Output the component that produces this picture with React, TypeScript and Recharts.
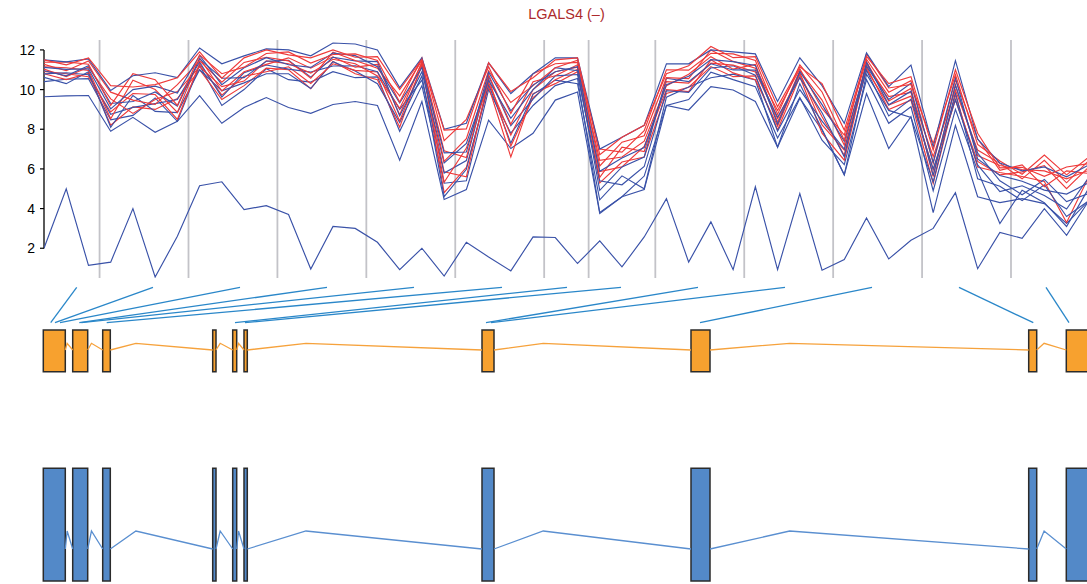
import React from 'react'
import {
  LineChart,
  Line,
  XAxis,
  YAxis,
  ReferenceLine,
  ReferenceArea,
  ComposedChart,
} from 'recharts'

// expression per bin (48 bins across the exons)
const red1 = [11.5, 11.25, 11.6, 10.2, 10.13, 10.25, 10.6, 11.9, 10.58, 11.6, 12.0, 11.75, 11.6, 12.0, 11.63, 11.66, 10.0, 11.53, 7.96, 8.02, 11.35, 9.9, 10.6, 11.5, 11.6, 6.72, 7.6, 8.2, 10.8, 11.2, 12.17, 11.61, 11.66, 9.14, 11.15, 10.3, 7.96, 11.67, 10.3, 10.65, 6.95, 11.0, 7.8, 6.05, 6.08, 5.63, 6.1, 6.27]
const red2 = [11.38, 11.4, 11.28, 9.2, 10.8, 10.5, 9.2, 11.75, 10.8, 11.13, 11.82, 11.9, 11.34, 11.77, 11.8, 11.47, 9.37, 11.6, 7.43, 8.5, 11.15, 8.8, 10.8, 11.3, 11.37, 7.0, 6.85, 7.93, 11.0, 10.98, 11.83, 11.8, 11.47, 8.75, 11.25, 9.88, 7.45, 11.8, 10.08, 10.26, 7.29, 10.75, 7.23, 6.4, 5.73, 6.7, 5.7, 6.6]
const red3 = [11.27, 10.95, 11.44, 9.87, 9.47, 9.25, 10.25, 11.45, 10.37, 11.37, 11.63, 11.45, 10.57, 11.88, 11.47, 11.08, 9.68, 11.47, 6.38, 7.53, 10.95, 9.35, 10.2, 11.1, 11.48, 6.15, 7.35, 7.67, 10.6, 10.55, 12.0, 11.42, 11.08, 8.94, 11.05, 9.05, 7.71, 11.53, 9.87, 10.45, 6.28, 10.49, 7.52, 5.93, 6.2, 5.1, 5.9, 5.77]
const red4 = [11.15, 11.1, 10.97, 8.53, 10.47, 10.0, 8.85, 11.6, 9.93, 10.9, 11.27, 11.6, 11.08, 11.65, 11.13, 11.27, 8.73, 11.4, 6.91, 6.57, 10.75, 8.25, 10.4, 10.7, 11.25, 6.43, 6.6, 7.4, 10.2, 10.77, 11.66, 11.03, 11.27, 8.35, 10.95, 9.47, 7.2, 11.27, 9.65, 9.86, 6.62, 9.98, 6.95, 6.28, 5.5, 6.43, 5.3, 6.43]
const red5 = [11.03, 10.65, 11.13, 9.53, 8.8, 9.5, 9.9, 11.15, 10.15, 10.43, 11.45, 11.3, 10.83, 11.53, 11.3, 10.69, 9.05, 11.33, 5.33, 7.05, 10.35, 7.7, 10.0, 10.9, 11.13, 5.58, 7.1, 6.87, 10.4, 10.33, 11.33, 11.23, 10.89, 8.55, 10.75, 8.63, 6.69, 11.4, 9.43, 10.06, 5.61, 10.24, 6.67, 6.17, 5.97, 5.9, 5.5, 5.93]
const red6 = [10.92, 10.8, 10.65, 8.87, 9.8, 9.75, 8.5, 11.3, 9.72, 10.67, 10.9, 11.15, 10.31, 11.3, 10.97, 10.89, 8.42, 11.2, 5.85, 5.6, 10.55, 7.15, 9.6, 10.5, 11.02, 5.87, 6.1, 7.13, 10.0, 9.9, 11.5, 10.84, 10.5, 8.16, 10.85, 8.22, 6.95, 11.0, 9.22, 9.67, 5.94, 9.47, 6.38, 5.7, 5.85, 6.17, 5.0, 6.1]
const red7 = [10.8, 10.5, 10.81, 8.2, 9.13, 9.0, 9.55, 11.0, 9.5, 10.2, 11.08, 11.0, 10.05, 11.42, 10.8, 10.5, 8.1, 11.27, 4.8, 6.08, 10.15, 6.6, 9.8, 10.3, 10.9, 5.3, 6.35, 6.6, 9.8, 10.12, 11.16, 10.65, 10.69, 7.96, 10.65, 7.8, 6.44, 11.13, 9.0, 9.47, 5.27, 9.73, 6.1, 5.82, 5.62, 5.37, 3.3, 5.6]

const blue1 = [11.5, 11.4, 11.55, 9.95, 10.7, 10.85, 10.6, 12.1, 11.3, 11.7, 12.05, 12.0, 11.7, 12.35, 12.3, 12.0, 10.1, 11.6, 8.0, 8.3, 11.35, 9.8, 10.8, 11.6, 11.6, 7.0, 7.6, 8.2, 11.3, 11.3, 12.0, 11.9, 11.8, 9.4, 11.6, 10.2, 8.3, 11.85, 10.15, 11.24, 7.1, 11.46, 7.5, 6.3, 5.9, 6.1, 5.6, 6.2]
const blue2 = [10.4, 10.52, 10.55, 8.47, 8.7, 9.58, 8.4, 11.22, 9.2, 10.0, 11.05, 10.5, 10.38, 10.9, 10.6, 10.64, 7.9, 10.2, 5.28, 5.4, 10.0, 7.8, 9.2, 10.2, 10.56, 3.8, 4.6, 5.64, 9.2, 9.5, 10.88, 10.5, 10.15, 7.56, 9.6, 7.45, 6.22, 10.5, 8.3, 9.13, 4.9, 9.0, 5.9, 3.25, 4.93, 4.3, 3.1, 5.03]
const blue3 = [10.62, 10.3, 10.9, 8.1, 9.7, 8.9, 8.84, 11.0, 9.94, 10.34, 10.8, 10.8, 10.05, 11.41, 10.94, 10.3, 8.34, 10.69, 4.6, 5.98, 10.27, 7.3, 9.76, 10.48, 10.3, 4.44, 5.65, 5.0, 9.62, 10.13, 10.6, 10.78, 10.48, 7.1, 10.3, 8.0, 5.7, 10.77, 8.95, 8.6, 5.34, 9.86, 5.5, 5.13, 4.4, 5.2, 3.6, 4.4]
const blue4 = [10.79, 10.85, 10.75, 8.75, 9.1, 9.29, 9.5, 11.39, 9.62, 10.85, 11.24, 11.03, 10.88, 11.19, 11.2, 10.9, 9.0, 10.48, 5.79, 6.42, 10.68, 8.18, 9.52, 10.69, 10.76, 5.4, 5.2, 6.12, 9.94, 9.86, 11.09, 11.2, 10.73, 7.91, 10.0, 8.41, 7.0, 10.97, 8.67, 9.52, 6.0, 9.49, 6.2, 4.86, 5.15, 4.66, 3.98, 5.57]
const blue5 = [10.95, 10.69, 11.2, 9.3, 9.4, 9.88, 9.17, 11.55, 10.57, 10.6, 11.43, 11.48, 10.63, 11.63, 11.45, 11.41, 8.67, 10.9, 6.3, 7.29, 10.47, 8.55, 10.0, 11.11, 10.95, 4.92, 6.1, 6.6, 10.57, 10.4, 11.3, 10.99, 10.98, 8.6, 10.6, 8.83, 6.61, 11.38, 9.23, 9.92, 5.67, 10.23, 6.8, 5.4, 4.7, 5.47, 4.35, 4.76]
const blue6 = [11.12, 11.02, 11.05, 9.03, 10.0, 10.17, 9.83, 11.72, 10.25, 11.1, 11.61, 11.25, 11.12, 11.84, 11.71, 11.15, 9.33, 11.11, 6.81, 6.85, 10.88, 8.93, 10.24, 10.9, 11.15, 5.88, 6.55, 7.08, 10.25, 10.67, 11.51, 11.41, 11.22, 8.25, 10.9, 9.24, 7.39, 11.18, 9.5, 10.32, 6.33, 10.6, 6.5, 5.67, 5.38, 4.93, 4.73, 5.3]
const blueLow = [9.64, 9.68, 9.7, 7.9, 8.6, 7.85, 8.4, 9.7, 8.3, 9.1, 9.6, 9.1, 8.8, 9.25, 9.4, 9.2, 6.44, 9.4, 4.46, 4.96, 8.46, 7.03, 7.8, 9.47, 9.88, 3.75, 4.6, 4.96, 9.2, 8.97, 10.15, 9.98, 9.4, 7.1, 9.56, 7.96, 5.7, 9.8, 7.03, 8.63, 3.8, 8.2, 4.6, 4.3, 4.5, 4.25, 3.25, 4.4]
const blueOutlier = [2.0, 5.0, 1.14, 1.3, 4.0, 0.55, 2.6, 5.15, 5.35, 3.95, 4.15, 3.7, 0.95, 3.1, 3.0, 2.3, 0.92, 2.0, 0.6, 2.3, 1.56, 0.86, 2.57, 2.54, 1.23, 2.37, 1.06, 2.57, 4.5, 1.3, 3.33, 0.92, 5.1, 0.92, 4.76, 0.89, 1.43, 3.53, 1.46, 2.4, 3.0, 4.8, 0.97, 2.8, 2.5, 4.0, 2.65, 4.4]

// bin boundaries between exon groups
const groupBreaks = [2.5, 6.5, 10.5, 14.5, 18.5, 22.5, 24.5, 27.5, 31.5, 35.5, 39.5, 43.5]
const yTicks = [2, 4, 6, 8, 10, 12]

// gene model, positions in bp from the left end of the locus
const exonStart = [0, 294, 594, 1694, 1894, 2007, 4387, 6477, 9854, 10230]
const exonEnd = [220, 444, 670, 1727, 1934, 2040, 4507, 6667, 9934, 10455]
// links from bin groups (top) to the exon they come from (bottom)
const linkFrom = [334, 1097, 1967, 2837, 3707, 4587, 5237, 5777, 6547, 7417, 8287, 9157, 10027]
const linkTo = [74, 117, 167, 360, 380, 634, 1917, 2017, 4427, 4477, 6567, 9900, 10257]

const RED = '#ee3a3a'
const BLUE = '#3a52a8'
const FONT = 'Liberation Sans, Arial, Helvetica, sans-serif'

const series = [
  { key: 'bo', values: blueOutlier, color: BLUE },
  { key: 'bl', values: blueLow, color: BLUE },
  { key: 'b2', values: blue2, color: BLUE },
  { key: 'r7', values: red7, color: RED },
  { key: 'b3', values: blue3, color: BLUE },
  { key: 'r6', values: red6, color: RED },
  { key: 'b4', values: blue4, color: BLUE },
  { key: 'r5', values: red5, color: RED },
  { key: 'r4', values: red4, color: RED },
  { key: 'b5', values: blue5, color: BLUE },
  { key: 'r3', values: red3, color: RED },
  { key: 'b6', values: blue6, color: BLUE },
  { key: 'r2', values: red2, color: RED },
  { key: 'b1', values: blue1, color: BLUE },
  { key: 'r1', values: red1, color: RED },
]

const rows = red1.map((_, i) => {
  const row: Record<string, number> = { i }
  series.forEach((s) => (row[s.key] = s.values[i]))
  return row
})

const tracks = [
  { fill: '#f7a12f', line: '#f6a23c', top: 50, bottom: 91.7, base: 70, peak: 63.3 },
  { fill: '#5389c8', line: '#5a8fd0', top: 188.3, bottom: 301, base: 269, peak: 251 },
]

function intronPath(base: number, peak: number) {
  const pts: { x: number; y: number | null }[] = []
  for (let k = 0; k < exonStart.length - 1; k++) {
    const a = exonEnd[k]
    const b = exonStart[k + 1]
    pts.push({ x: a, y: base }, { x: a + (b - a) / 4, y: peak }, { x: b, y: base })
    pts.push({ x: (b + exonEnd[k + 1]) / 2, y: null })
  }
  return pts
}

export default function App() {
  return (
    <div
      style={{
        position: 'absolute',
        left: 0,
        top: 0,
        width: 1087,
        height: 584,
        overflow: 'hidden',
        background: '#fff',
        fontFamily: FONT,
      }}
    >
      <div
        style={{
          position: 'absolute',
          left: 0,
          top: 7,
          width: 1133,
          textAlign: 'center',
          fontSize: 14.5,
          lineHeight: 1,
          color: '#ad2a2c',
        }}
      >
        LGALS4 (–)
      </div>

      <div style={{ position: 'absolute', left: 0, top: 0 }}>
        <LineChart width={1100} height={290} data={rows} margin={{ top: 40, right: 11.2, bottom: 12, left: 0 }}>
          <XAxis dataKey="i" type="number" domain={[0, 47]} allowDataOverflow hide />
          <YAxis
            type="number"
            domain={[0.5, 12.5]}
            allowDataOverflow
            ticks={yTicks}
            interval={0}
            width={44}
            axisLine={false}
            tickLine={{ stroke: '#000', strokeWidth: 1.2 }}
            tickSize={4}
            tickMargin={5}
            tick={{ fill: '#000', fontSize: 14, fontFamily: FONT }}
          />
          {groupBreaks.map((x) => (
            <ReferenceLine key={x} x={x} stroke="#c3c3c8" strokeWidth={1.8} />
          ))}
          <ReferenceLine
            segment={[
              { x: 0, y: 2 },
              { x: 0, y: 12 },
            ]}
            stroke="#000"
            strokeWidth={1.3}
            ifOverflow="visible"
          />
          {series.map((s) => (
            <Line
              key={s.key}
              dataKey={s.key}
              stroke={s.color}
              strokeWidth={1.15}
              dot={false}
              activeDot={false}
              isAnimationActive={false}
            />
          ))}
        </LineChart>
      </div>

      <div style={{ position: 'absolute', left: 0, top: 280 }}>
        <ComposedChart width={1100} height={304} margin={{ top: 0, right: 11.2, bottom: 0, left: 43.3 }}>
          <XAxis dataKey="x" type="number" domain={[0, 10455]} allowDataOverflow hide />
          <YAxis type="number" domain={[0, 304]} reversed allowDataOverflow hide />
          {linkFrom.map((x, k) => (
            <ReferenceLine
              key={'l' + k}
              segment={[
                { x, y: 7.3 },
                { x: linkTo[k], y: 42.7 },
              ]}
              stroke="#2a87c9"
              strokeWidth={1.3}
              ifOverflow="visible"
            />
          ))}
          {tracks.map((t, ti) => (
            <Line
              key={'intron' + ti}
              data={intronPath(t.base, t.peak)}
              dataKey="y"
              stroke={t.line}
              strokeWidth={1.3}
              dot={false}
              activeDot={false}
              isAnimationActive={false}
            />
          ))}
          {tracks.map((t, ti) =>
            exonStart.map((s, k) => (
              <ReferenceArea
                key={'e' + ti + '-' + k}
                x1={s}
                x2={exonEnd[k]}
                y1={t.top}
                y2={t.bottom}
                fill={t.fill}
                fillOpacity={1}
                stroke="#2b2b2b"
                strokeWidth={1.5}
                ifOverflow="visible"
              />
            ))
          )}
        </ComposedChart>
      </div>
    </div>
  )
}
